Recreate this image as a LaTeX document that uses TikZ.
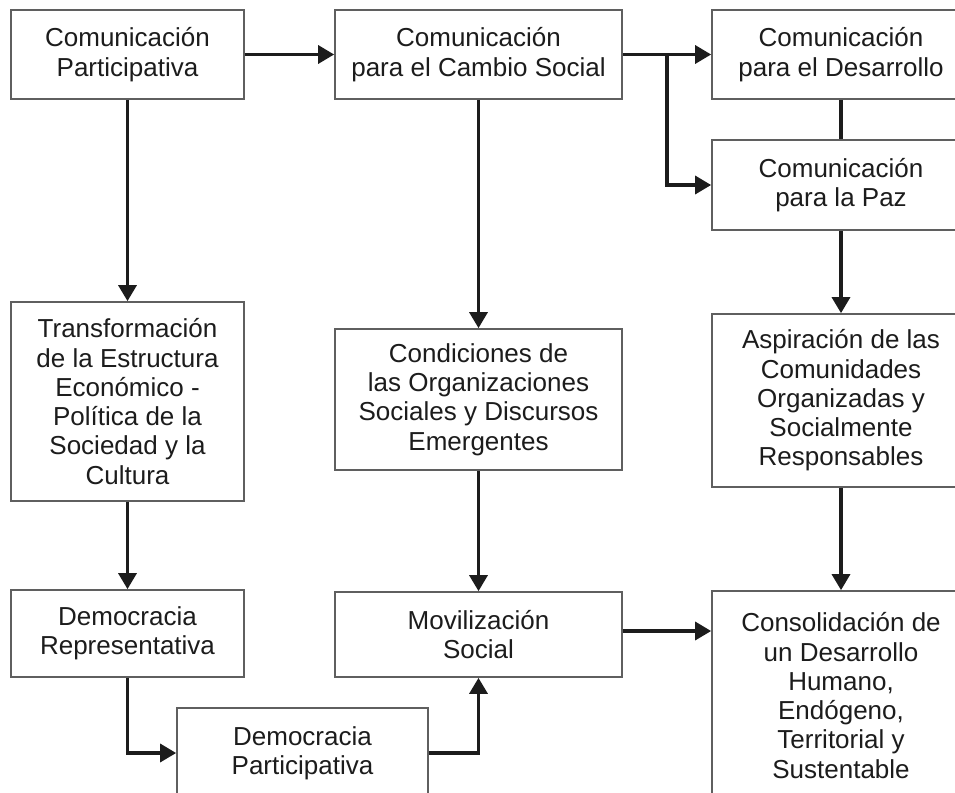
\documentclass[tikz,border=0pt]{standalone}
\usepackage{fontspec}
\setmainfont{Liberation Sans}
\usetikzlibrary{arrows.meta}
\definecolor{edgegray}{HTML}{5F5F5F}
\definecolor{inkdark}{HTML}{1C1C1C}
\tikzset{
  box/.style={draw=edgegray, line width=1.7pt, fill=white, align=center,
    text=inkdark, inner sep=0pt, font=\fontsize{26}{29.3}\selectfont},
  link/.style={draw=inkdark, line width=3.3pt},
  flow/.style={link, -{Triangle[length=16pt,width=18pt]}}
}
\begin{document}
\begin{tikzpicture}[x=1pt,y=-1pt]
  \useasboundingbox (0,0) rectangle (955,792);
  \clip (0,0) rectangle (955,792);
  \fill[white] (0,0) rectangle (955,792);

  % first column
  \node[box, minimum width=233pt, minimum height=89pt] (cpart) at (127.5,54.5)
    {Comunicación\\Participativa};
  \node[box, minimum width=233pt, minimum height=199pt] (trans) at (127.5,401.5)
    {Transformación\\de la Estructura\\Económico -\\Política de la\\Sociedad y la\\Cultura};
  \node[box, minimum width=233pt, minimum height=87pt] (drep) at (127.5,633.5)
    {Democracia\\Representativa};
  \node[box, minimum width=251pt, minimum height=90pt] (dpart) at (302.5,753)
    {Democracia\\Participativa};

  % second column
  \node[box, minimum width=287pt, minimum height=89pt] (ccs) at (478.5,54.5)
    {Comunicación\\para el Cambio Social};
  \node[box, minimum width=287pt, minimum height=141pt] (cond) at (478.5,399.5)
    {Condiciones de\\las Organizaciones\\Sociales y Discursos\\Emergentes};
  \node[box, minimum width=287pt, minimum height=85pt] (movil) at (478.5,634.5)
    {Movilización\\Social};

  % third column
  \node[box, minimum width=258pt, minimum height=89pt] (cdes) at (841,54.5)
    {Comunicación\\para el Desarrollo};
  \node[box, minimum width=258pt, minimum height=90pt] (cpaz) at (841,185)
    {Comunicación\\para la Paz};
  \node[box, minimum width=258pt, minimum height=173pt] (aspir) at (841,400.5)
    {Aspiración de las\\Comunidades\\Organizadas y\\Socialmente\\Responsables};
  \node[box, minimum width=258pt, minimum height=209pt] (conso) at (841,695.5)
    {Consolidación de\\un Desarrollo\\Humano,\\Endógeno,\\Territorial y\\Sustentable};

  % connectors
  \coordinate (fork) at (667,54.5);
  \draw[flow] (cpart.east) -- (ccs.west);
  \draw[flow] (ccs.east) -- (cdes.west);
  \draw[flow] (fork) |- (cpaz.west);
  \draw[link] (cdes.south) -- (cpaz.north);
  \draw[flow] (cpaz.south) -- (aspir.north);
  \draw[flow] (aspir.south) -- (conso.north);
  \draw[flow] (cpart.south) -- (trans.north);
  \draw[flow] (trans.south) -- (drep.north);
  \draw[flow] (drep.south) |- (dpart.west);
  \draw[flow] (dpart.east) -| (movil.south);
  \draw[flow] (ccs.south) -- (cond.north);
  \draw[flow] (cond.south) -- (movil.north);
  \draw[flow] ([yshift=3.5pt]movil.east) -- ([yshift=3.5pt]movil.east -| conso.west);
\end{tikzpicture}
\end{document}
